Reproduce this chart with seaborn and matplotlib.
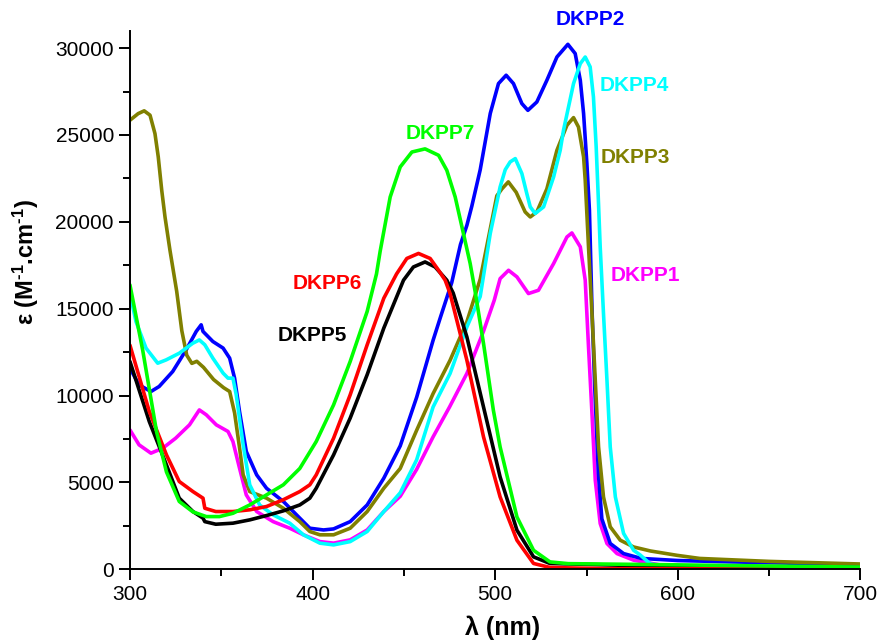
import numpy as np
import pandas as pd
import matplotlib
matplotlib.use("Agg")
import matplotlib.pyplot as plt
import seaborn as sns
from matplotlib.ticker import MultipleLocator

# ---------------- data ----------------
wl_p1 = [300, 305, 311.5, 318, 325, 332.6, 338, 341.8, 347.3, 353.7, 356.4, 360, 363.7, 369.4,
         378.4, 387.5, 395, 404, 411.5, 420.6, 429.9, 439, 448, 457, 466, 475, 484.5, 493.6,
         499.5, 502.7, 507.3, 511.9, 518.2, 523.7, 532, 539.3, 542, 546.6, 549.3, 551.1, 553,
         554.8, 557.5, 561.2, 566.7, 575.8, 590, 620, 700]
eps_p1 = [8020, 7160, 6680, 6970, 7540, 8310, 9170, 8890, 8310, 7930, 7350, 5820, 4280, 3320,
          2740, 2360, 1980, 1590, 1500, 1690, 2260, 3320, 4200, 5750, 7620, 9340, 11270, 13700,
          15490, 16730, 17210, 16830, 15870, 16060, 17600, 19130, 19360, 18560, 16640, 12800,
          8960, 5120, 2630, 1480, 900, 520, 250, 100, 30]

wl_p2 = [300, 305, 311.5, 316, 323.4, 330.8, 336.3, 339, 340, 345.4, 351, 354.6, 357.3, 360,
         363.7, 369.4, 374.8, 384, 393, 398.5, 406, 411.5, 420.6, 429.9, 439, 448, 457, 466,
         470, 476.2, 481, 484.5, 487.2, 491.8, 497.3, 501.8, 506, 510, 514.6, 517.9, 522.8,
         528.3, 533.8, 539.8, 543.8, 546.6, 548.4, 550.2, 551.6, 553, 554.5, 556.5, 558.4, 563,
         570.3, 580, 600, 630, 660, 700]
eps_p2 = [11570, 10610, 10230, 10520, 11380, 12630, 13690, 14070, 13690, 13110, 12730, 12150,
          11000, 9080, 6780, 5430, 4660, 3900, 2940, 2360, 2260, 2320, 2740, 3700, 5240, 7100,
          9900, 13180, 14500, 16500, 18700, 19800, 20900, 23000, 26240, 27960, 28440, 27960,
          26810, 26420, 26900, 28150, 29490, 30220, 29690, 28150, 26240, 23360, 20670, 15000,
          10500, 5500, 2900, 1480, 900, 620, 500, 420, 350, 200]

wl_p3 = [300, 304.5, 307.8, 311, 313.7, 315.5, 317.4, 319.2, 321.9, 325.6, 328.4, 331.1, 333.9,
         336.6, 340.3, 345.8, 351.3, 354.6, 357.3, 360, 362, 365.6, 374.8, 384, 393, 398.5, 404,
         411.5, 420.6, 429.9, 439, 448, 457, 466, 475.3, 484.5, 491.8, 497.3, 500.9, 503.7,
         507.2, 511.5, 516.4, 519.2, 522.8, 528.3, 533.8, 539.3, 542.9, 545.6, 548.4, 549.3,
         551.1, 553, 554.8, 556.6, 559.3, 563, 568.5, 575.8, 585, 599.5, 612, 650, 700]
eps_p3 = [25850, 26230, 26390, 26140, 25080, 23740, 21820, 20280, 18370, 16000, 13730, 12320,
          11850, 11970, 11620, 10920, 10450, 10230, 9000, 7000, 5430, 4470, 4090, 3510, 2740,
          2170, 1980, 1980, 2360, 3320, 4660, 5800, 8000, 10110, 12030, 14250, 16700, 19600,
          21500, 21900, 22300, 21700, 20570, 20280, 20570, 21900, 24120, 25560, 26000, 25460,
          23740, 22390, 18560, 14720, 10880, 7040, 4160, 2440, 1670, 1280, 1050, 800, 620, 450,
          300]

wl_p4 = [300, 303.3, 308.8, 315.2, 319.8, 327.1, 334.4, 338, 341, 345.4, 351, 353.7, 356.4,
         358.2, 362, 365.6, 371, 378.4, 387.5, 395, 404, 411.5, 420.6, 429.9, 439, 448, 457,
         466, 475.3, 484.5, 491.8, 497.3, 502.7, 505.5, 508.2, 511, 514.6, 517.3, 519.2, 521.9,
         526.5, 532, 535.6, 537.4, 542.9, 546.6, 549.3, 552, 553.8, 555.3, 556.6, 557.5, 559.3,
         561.2, 563, 565.8, 570.3, 575.8, 579.5, 585, 600, 700]
eps_p4 = [15890, 14260, 12730, 11860, 12050, 12440, 13010, 13200, 12920, 12150, 11290, 11000,
          11000, 10040, 7160, 4860, 3700, 3130, 2650, 1980, 1500, 1400, 1590, 2170, 3320, 4400,
          6300, 9340, 11270, 13950, 15700, 19330, 22010, 23000, 23450, 23640, 22780, 21630,
          20860, 20480, 20860, 22590, 24120, 25270, 27960, 29110, 29490, 28920, 27190, 24310,
          21000, 18560, 14720, 10880, 7040, 4160, 2060, 1090, 810, 300, 50, 0]

wl_p5 = [300, 310.6, 320, 327, 334.5, 340, 341, 347, 356.4, 365.6, 374.8, 384, 393, 398.5, 402,
         411.5, 420.6, 429.9, 439, 449.8, 455.2, 461.6, 467.1, 473.5, 477, 484.5, 493.6, 502.7,
         511.9, 521, 530, 560, 600, 700]
eps_p5 = [11960, 8500, 6000, 4090, 3320, 2940, 2740, 2590, 2650, 2840, 3090, 3360, 3700, 4090,
          4660, 6580, 8700, 11200, 13880, 16640, 17400, 17690, 17400, 16640, 15900, 13370, 9340,
          5310, 2250, 710, 330, 250, 150, 50]

wl_p6 = [300, 310.6, 320, 327, 334.5, 340, 341, 347, 356.4, 365.6, 374.8, 384, 393, 398.5, 402,
         411.5, 420.6, 429.9, 439, 446, 451.6, 458, 464.4, 469, 472.6, 475.3, 484.5, 493.6,
         502.7, 511.9, 521, 530, 560, 700]
eps_p6 = [12900, 9080, 6580, 5050, 4470, 4090, 3510, 3320, 3320, 3420, 3610, 4000, 4470, 4860,
          5430, 7540, 10040, 12920, 15600, 17000, 17890, 18180, 17890, 17210, 16640, 15870,
          12030, 7620, 4160, 1670, 330, 100, 30, 0]

wl_p7 = [300, 307, 314.6, 320, 327, 334.5, 341.8, 349, 356.4, 365.6, 374.8, 384, 393, 402,
         411.5, 420.6, 429.9, 435, 437, 442.5, 448, 454.4, 461.6, 469, 473.5, 478.1, 482.6,
         486.3, 489, 493.6, 499, 502.7, 511.9, 521, 530, 540, 600, 700]
eps_p7 = [16370, 12600, 7900, 5600, 3900, 3300, 3030, 3030, 3220, 3700, 4280, 4860, 5800, 7350,
          9460, 11960, 14840, 17000, 18300, 21430, 23160, 24020, 24200, 23830, 22970, 21430,
          19330, 17600, 16000, 13000, 9150, 7040, 3010, 1090, 420, 320, 250, 120]

names = ["DKPP1", "DKPP2", "DKPP3", "DKPP4", "DKPP5", "DKPP6", "DKPP7"]
colors = ["#FF00FF", "#0000FF", "#808000", "#00FFFF", "#000000", "#FF0000", "#00FF00"]
label_x = [582, 552, 577, 576, 400, 408, 470]
label_y = [16930, 31660, 23720, 27860, 13470, 16470, 25100]


def main():
    series = [(wl_p1, eps_p1), (wl_p2, eps_p2), (wl_p3, eps_p3), (wl_p4, eps_p4),
              (wl_p5, eps_p5), (wl_p6, eps_p6), (wl_p7, eps_p7)]
    frames = []
    for name, (wl, eps) in zip(names, series):
        frames.append(pd.DataFrame({"wl": wl, "eps": eps, "name": name}))
    df = pd.concat(frames, ignore_index=True)

    sns.set_style("ticks")
    plt.rcParams["font.family"] = ["Liberation Sans", "DejaVu Sans"]
    plt.rcParams["mathtext.fontset"] = "custom"
    plt.rcParams["mathtext.bf"] = "Liberation Sans:bold"
    plt.rcParams["mathtext.rm"] = "Liberation Sans:bold"
    plt.rcParams["mathtext.default"] = "bf"
    # plain black axes and text, like the original plot
    for key in ["text.color", "axes.labelcolor", "xtick.color", "ytick.color", "axes.edgecolor"]:
        plt.rcParams[key] = "black"

    fig = plt.figure(figsize=(8.78, 6.41), dpi=100)
    ax = fig.add_axes([0.148, 0.112, 0.832, 0.84])

    sns.lineplot(data=df, x="wl", y="eps", hue="name", hue_order=names,
                 palette=dict(zip(names, colors)), estimator=None, sort=False,
                 linewidth=2.6, legend=False, ax=ax)
    for ln in ax.lines:
        ln.set_solid_joinstyle("round")
        ln.set_solid_capstyle("round")

    for name, c, lx, ly in zip(names, colors, label_x, label_y):
        ax.text(lx, ly, name, color=c, fontsize=15, fontweight="bold",
                ha="center", va="center", clip_on=False)

    ax.set_xlim(300, 700)
    ax.set_ylim(0, 31000)
    ax.xaxis.set_major_locator(MultipleLocator(100))
    ax.xaxis.set_minor_locator(MultipleLocator(50))
    ax.yaxis.set_major_locator(MultipleLocator(5000))
    ax.yaxis.set_minor_locator(MultipleLocator(2500))
    ax.tick_params(which="major", direction="out", length=8, width=1.4, labelsize=15,
                   colors="black")
    ax.tick_params(which="minor", direction="out", length=5, width=1.4, colors="black")
    for s in ["top", "right"]:
        ax.spines[s].set_visible(False)
    for s in ["left", "bottom"]:
        ax.spines[s].set_linewidth(1.4)
        ax.spines[s].set_color("black")

    ax.set_xlabel("λ (nm)", fontsize=18, fontweight="bold", color="black")
    ax.set_ylabel(r"ε (M$^{\text{-1}}$.cm$^{\text{-1}}$)", fontsize=17, fontweight="bold",
                  color="black")
    ax.xaxis.set_label_coords(0.51, -0.108)
    ax.xaxis.label.set_va("center")
    ax.yaxis.set_label_coords(-0.142, 0.571)
    ax.yaxis.label.set_va("center")

    fig.savefig("out.png", dpi=100)


if __name__ == '__main__':
    main()
